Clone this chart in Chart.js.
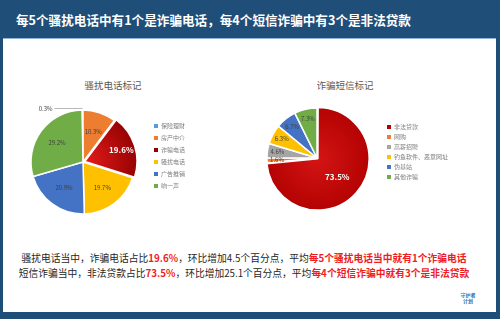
<!DOCTYPE html>
<html>
<head>
<meta charset="utf-8">
<script src="https://cdn.jsdelivr.net/npm/chart.js@4.4.1/dist/chart.umd.min.js"></script>
<style>
	html, body { margin: 0; padding: 0; }
	body {
		width: 500px; height: 319px; position: relative; overflow: hidden;
		background: #1f4e79;
		font-family: "Noto Sans CJK SC", "Noto Sans", sans-serif;
	}
	.head {
		position: absolute; left: 16px; top: 11px; white-space: nowrap;
		color: #fff; font-weight: bold; font-size: 12.6px; line-height: 18px;
	}
	.panel {
		position: absolute; left: 3px; top: 38px; width: 493px; height: 274px;
		background: #fff; border-top: 1px solid #8fb4d9; box-sizing: border-box;
	}
	.ctitle {
		position: absolute; top: 78px; width: 100px; text-align: center;
		color: #595959; font-size: 9.5px; line-height: 14px;
	}
	canvas { position: absolute; }
	.note {
		position: absolute; left: 0; width: 488px; text-align: center; white-space: nowrap;
		color: #262626; font-size: 9.75px; line-height: 14px;
	}
	.note b { color: #f01c24; }
	.logo {
		position: absolute; left: 456px; top: 292px; width: 24px; text-align: center;
		color: #2e75b6; font-size: 5px; line-height: 6px; font-weight: bold;
	}
</style>
</head>
<body>
<div class="head">每5个骚扰电话中有1个是诈骗电话，每4个短信诈骗中有3个是非法贷款</div>
<div class="panel"></div>
<div class="ctitle" style="left:63px">骚扰电话标记</div>
<div class="ctitle" style="left:295px">诈骗短信标记</div>
<canvas id="phoneChart" style="left:18px;top:100px;width:190px;height:125px"></canvas>
<canvas id="smsChart" style="left:245px;top:100px;width:230px;height:120px"></canvas>
<div class="note" style="top:251px">骚扰电话当中，诈骗电话占比<b>19.6%</b>，环比增加4.5个百分点，平均<b>每5个骚扰电话当中就有1个诈骗电话</b></div>
<div class="note" style="top:266px">短信诈骗当中，非法贷款占比<b>73.5%</b>，环比增加25.1个百分点，平均<b>每4个短信诈骗中就有3个是非法贷款</b></div>
<div class="logo">守护者<br>计划</div>
<script>
// 骚扰电话标记
const phoneLabels = ['保险理财', '房产中介', '诈骗电话', '骚扰电话', '广告推销', '响一声'];
const phoneShares = [0.3, 10.3, 19.6, 19.7, 20.9, 29.2];
// 诈骗短信标记
const smsLabels = ['非法贷款', '网购', '高薪招聘', '钓鱼软件、恶意网址', '伪基站', '其他诈骗'];
const smsShares = [73.5, 1.6, 4.6, 6.3, 6.7, 7.3];

const phoneColors = ['#5b9bd5', '#ed7d31', null, '#ffc000', '#4472c4', '#70ad47'];
const smsColors = [null, '#ed7d31', '#a5a5a5', '#ffc000', '#4472c4', '#70ad47'];

Chart.defaults.font.family = '"Noto Sans CJK SC", "Noto Sans", sans-serif';
Chart.defaults.animation = false;

// slice colours, with a shaded red for the highlighted slice
function sliceFill(colors, light, dark) {
	return c => {
		const col = colors[c.dataIndex];
		if (col) return col;
		const a = c.chart.chartArea;
		if (!a) return dark;
		const x = (a.left + a.right) / 2, y = (a.top + a.bottom) / 2;
		const g = c.chart.ctx.createRadialGradient(x, y, 0, x, y, 58);
		g.addColorStop(0, light);
		g.addColorStop(1, dark);
		return g;
	};
}

// percentage labels on the slices
const sliceLabels = {
	id: 'sliceLabels',
	afterDatasetsDraw(chart, args, opts) {
		const ctx = chart.ctx;
		const ds = chart.data.datasets[0];
		chart.getDatasetMeta(0).data.forEach((arc, i) => {
			const p = arc.getProps(['x', 'y', 'startAngle', 'endAngle', 'outerRadius']);
			const mid = (p.startAngle + p.endAngle) / 2;
			const off = (Array.isArray(ds.offset) ? ds.offset[i] : ds.offset) || 0;
			const cx = p.x + Math.cos(mid) * off, cy = p.y + Math.sin(mid) * off;
			const text = ds.data[i].toFixed(1) + '%';
			ctx.save();
			ctx.textBaseline = 'middle';
			if (ds.data[i] < 1) {
				const px = cx + Math.cos(mid) * p.outerRadius, py = cy + Math.sin(mid) * p.outerRadius - 1.5;
				ctx.strokeStyle = '#a6a6a6';
				ctx.lineWidth = 0.8;
				ctx.beginPath();
				ctx.moveTo(px, py);
				ctx.lineTo(px - 28, py);
				ctx.stroke();
				ctx.fillStyle = '#404040';
				ctx.font = '6px ' + Chart.defaults.font.family;
				ctx.textAlign = 'right';
				ctx.fillText(text, px - 30, py);
			} else {
				const hero = i === opts.hero;
				const f = hero ? opts.heroPos : opts.pos;
				ctx.fillStyle = hero ? '#fff' : '#404040';
				ctx.font = (hero ? 'bold 8px ' : '6px ') + Chart.defaults.font.family;
				ctx.textAlign = 'center';
				ctx.fillText(text, cx + Math.cos(mid) * p.outerRadius * f, cy + Math.sin(mid) * p.outerRadius * f);
			}
			ctx.restore();
		});
	}
};

function legendItems(chart) {
	return Chart.overrides.pie.plugins.legend.labels.generateLabels(chart)
		.map(l => Object.assign(l, { lineWidth: 0 }));
}

function pieOptions(radius, rotation, gap, padding, labelOpts) {
	return {
		responsive: false,
		radius: radius,
		rotation: rotation,
		layout: { padding: padding },
		plugins: {
			title: { display: false },
			tooltip: { enabled: false },
			legend: {
				position: 'right',
				align: 'start',
				labels: {
					boxWidth: 4, boxHeight: 4, padding: gap,
					color: '#7f7f7f', font: { size: 6 },
					generateLabels: legendItems
				}
			},
			sliceLabels: labelOpts
		}
	};
}

function sizeCanvas(id) {
	const el = document.getElementById(id);
	el.width = parseInt(el.style.width);
	el.height = parseInt(el.style.height);
	return el;
}

new Chart(sizeCanvas('phoneChart'), {
	type: 'pie',
	data: {
		labels: phoneLabels,
		datasets: [{
			data: phoneShares,
			backgroundColor: sliceFill(phoneColors, '#e51b1b', '#8e0000'),
			borderColor: '#fff',
			borderWidth: 1.5,
			offset: [0, 0, 8, 0, 0, 0],
			clip: false
		}]
	},
	options: pieOptions(52, -1.08, 6, { left: 0, right: 13, top: 17, bottom: 18 },
		{ hero: 2, pos: 0.62, heroPos: 0.62 }),
	plugins: [sliceLabels]
});

new Chart(sizeCanvas('smsChart'), {
	type: 'pie',
	data: {
		labels: smsLabels,
		datasets: [{
			data: smsShares,
			backgroundColor: sliceFill(smsColors, '#d41414', '#b00000'),
			borderColor: '#fff',
			borderWidth: 1.5,
			offset: [5, 0, 0, 0, 0, 0],
			clip: false
		}]
	},
	options: pieOptions(50, 0, 4, { left: 6, right: 17, top: 20, bottom: 24 },
		{ hero: 0, pos: 0.8, heroPos: 0.45 }),
	plugins: [sliceLabels]
});
</script>
</body>
</html>
